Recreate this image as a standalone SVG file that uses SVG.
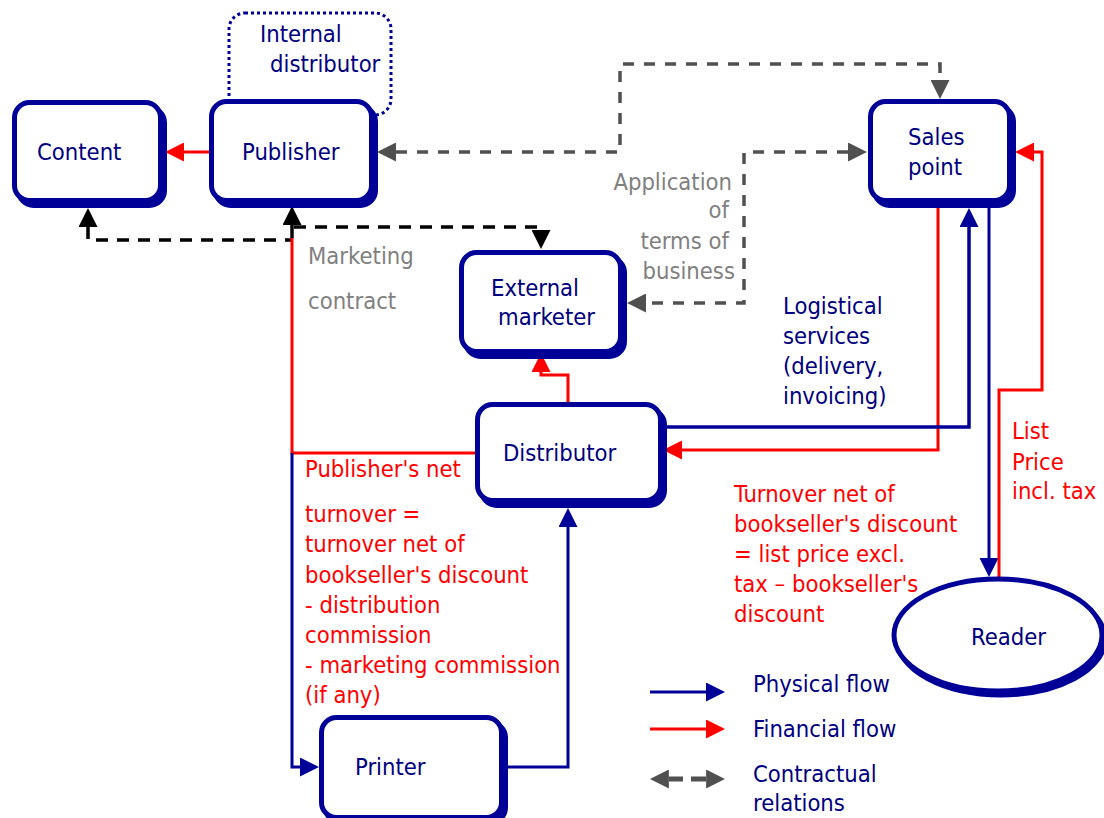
<svg xmlns="http://www.w3.org/2000/svg" width="1104" height="818" viewBox="0 0 1104 818">
<style>
text{font-family:"DejaVu Sans Condensed","DejaVu Sans",sans-serif;font-size:23.6px}
.nt{fill:#000080}
.gt{fill:#808080}
.rt{fill:#ff0000}
.box{fill:#ffffff;stroke:#000099;stroke-width:5}
.sh{fill:#000099;stroke:#000099;stroke-width:5}
.red{fill:none;stroke:#ff0000;stroke-width:3}
.blue{fill:none;stroke:#000099;stroke-width:3}
.blk{fill:none;stroke:#000000;stroke-width:3.5;stroke-dasharray:12 9}
.gry{fill:none;stroke:#505050;stroke-width:3.5;stroke-dasharray:11 10}
</style>
<defs>
<marker id="ar" viewBox="0 0 19 19" refX="0" refY="9.5" markerWidth="19" markerHeight="19" markerUnits="userSpaceOnUse" orient="auto-start-reverse"><path d="M0,0 L19,9.5 L0,19 z" fill="#ff0000"/></marker>
<marker id="ab" viewBox="0 0 19 19" refX="0" refY="9.5" markerWidth="19" markerHeight="19" markerUnits="userSpaceOnUse" orient="auto-start-reverse"><path d="M0,0 L19,9.5 L0,19 z" fill="#000099"/></marker>
<marker id="ak" viewBox="0 0 19 19" refX="0" refY="9.5" markerWidth="19" markerHeight="19" markerUnits="userSpaceOnUse" orient="auto-start-reverse"><path d="M0,0 L19,9.5 L0,19 z" fill="#000000"/></marker>
<marker id="ag" viewBox="0 0 19 19" refX="0" refY="9.5" markerWidth="19" markerHeight="19" markerUnits="userSpaceOnUse" orient="auto-start-reverse"><path d="M0,0 L19,9.5 L0,19 z" fill="#505050"/></marker>
</defs>
<rect width="1104" height="818" fill="#ffffff"/>

<g id="internal-distributor">
<rect x="229" y="13" width="162" height="102" rx="16" fill="none" stroke="#000099" stroke-width="3" stroke-dasharray="3 3"/>
<text class="nt" x="260" y="42">Internal</text>
<text class="nt" x="270" y="72">distributor</text>
</g>

<g id="connectors">
<path class="red" d="M209,152 H184" marker-end="url(#ar)"/>
<path class="blk" d="M88,227 V240 H292" marker-start="url(#ak)"/>
<path d="M292,238 V225" fill="none" stroke="#000" stroke-width="3.5" marker-end="url(#ak)"/>
<path class="blk" d="M294,227 H541 V230" marker-end="url(#ak)"/>
<path class="red" d="M477,453 H292 V238"/>
<path class="blue" d="M292,453 V767 H300" marker-end="url(#ab)"/>
<path class="blue" d="M508,767 H568 V527" marker-end="url(#ab)"/>
<path class="red" d="M568,402 V375 H541 V372" marker-end="url(#ar)"/>
<path class="gry" d="M396,152 H620 V64 H940 V80" marker-start="url(#ag)" marker-end="url(#ag)"/>
<path class="gry" d="M848,152 H744 V303 H646" marker-start="url(#ag)" marker-end="url(#ag)"/>
<path class="red" d="M938,204 V450 H682" marker-end="url(#ar)"/>
<path class="blue" style="stroke-width:3.5" d="M663,427 H969 V227" marker-end="url(#ab)"/>
<path class="blue" d="M989,206 V558" marker-end="url(#ab)"/>
<path class="red" d="M999,578 V390 H1042 V152 H1034" marker-end="url(#ar)"/>
</g>

<g id="content">
<rect class="sh" x="18.5" y="107.5" width="146" height="98" rx="15"/>
<rect class="box" x="14.5" y="102.5" width="146" height="98" rx="15"/>
<text class="nt" x="37" y="160">Content</text>
</g>

<g id="publisher">
<rect class="sh" x="215.5" y="106.5" width="160" height="99" rx="15"/>
<rect class="box" x="211.5" y="101.5" width="160" height="99" rx="15"/>
<text class="nt" x="242" y="160">Publisher</text>
</g>

<g id="sales-point">
<rect class="sh" x="874.5" y="106.5" width="139" height="99" rx="15"/>
<rect class="box" x="870.5" y="101.5" width="139" height="99" rx="15"/>
<text class="nt" x="908" y="145">Sales</text>
<text class="nt" x="908" y="175">point</text>
</g>

<g id="external-marketer">
<rect class="sh" x="465.5" y="257.5" width="159" height="99" rx="15"/>
<rect class="box" x="461.5" y="252.5" width="159" height="99" rx="15"/>
<text class="nt" x="491" y="296">External</text>
<text class="nt" x="498" y="325">marketer</text>
</g>

<g id="distributor">
<rect class="sh" x="481.5" y="409.5" width="183" height="96" rx="15"/>
<rect class="box" x="477.5" y="404.5" width="183" height="96" rx="15"/>
<text class="nt" x="503" y="461">Distributor</text>
</g>

<g id="printer">
<rect class="sh" x="325.5" y="722.5" width="180" height="100" rx="15"/>
<rect class="box" x="321.5" y="717.5" width="180" height="100" rx="15"/>
<text class="nt" x="355" y="775">Printer</text>
</g>

<g id="reader">
<ellipse class="sh" cx="1001" cy="639" rx="104" ry="56"/>
<ellipse class="box" cx="998" cy="635" rx="104" ry="56"/>
<text class="nt" x="971" y="645">Reader</text>
</g>

<g id="labels">
<text class="gt" x="308" y="264">Marketing</text>
<text class="gt" x="308" y="309">contract</text>
<text class="gt" x="732" y="190" text-anchor="end">Application</text>
<text class="gt" x="729" y="218" text-anchor="end">of</text>
<text class="gt" x="729" y="249" text-anchor="end">terms of</text>
<text class="gt" x="735" y="279" text-anchor="end">business</text>
<text class="nt" x="783" y="314">Logistical</text>
<text class="nt" x="783" y="344">services</text>
<text class="nt" x="783" y="374">(delivery,</text>
<text class="nt" x="783" y="404">invoicing)</text>
<text class="rt" x="305" y="477">Publisher's net</text>
<text class="rt" x="305" y="522">turnover =</text>
<text class="rt" x="305" y="552">turnover net of</text>
<text class="rt" x="305" y="583">bookseller's discount</text>
<text class="rt" x="305" y="613">- distribution</text>
<text class="rt" x="305" y="643">commission</text>
<text class="rt" x="305" y="673">- marketing commission</text>
<text class="rt" x="305" y="703">(if any)</text>
<text class="rt" x="734" y="502">Turnover net of</text>
<text class="rt" x="734" y="532">bookseller's discount</text>
<text class="rt" x="734" y="562">= list price excl.</text>
<text class="rt" x="734" y="592">tax – bookseller's</text>
<text class="rt" x="734" y="622">discount</text>
<text class="rt" x="1012" y="439">List</text>
<text class="rt" x="1012" y="470">Price</text>
<text class="rt" x="1012" y="499">incl. tax</text>
</g>

<g id="legend">
<path class="blue" d="M650,692 H706" marker-end="url(#ab)"/>
<path class="red" d="M650,729 H706" marker-end="url(#ar)"/>
<path d="M669,779 H683 M691,779 H706" fill="none" stroke="#505050" stroke-width="5"/>
<path d="M669,779 H669.1" fill="none" stroke="none" marker-end="url(#ag)" transform="rotate(180 669 779)"/>
<path d="M706,779 H706.1" fill="none" stroke="none" marker-end="url(#ag)"/>
<text class="nt" x="753" y="692">Physical flow</text>
<text class="nt" x="753" y="737">Financial flow</text>
<text class="nt" x="753" y="782">Contractual</text>
<text class="nt" x="753" y="811">relations</text>
</g>
</svg>
